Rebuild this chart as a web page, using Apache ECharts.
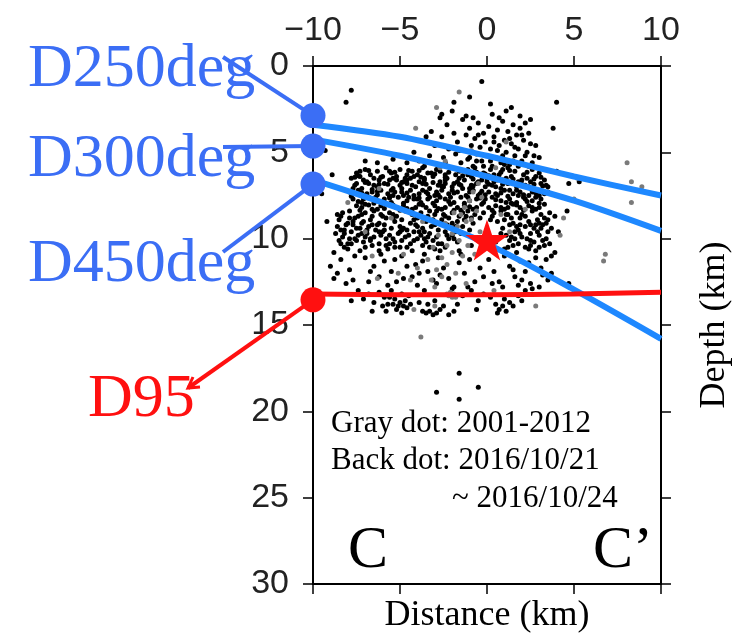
<!DOCTYPE html>
<html>
<head>
<meta charset="utf-8">
<title>C - C' depth section</title>
<script src="https://cdn.jsdelivr.net/npm/echarts@6/dist/echarts.min.js"></script>
<style>
  html, body { margin: 0; padding: 0; background: #fff; }
  #chart { width: 741px; height: 639px; }
</style>
</head>
<body>
<div id="chart"></div>
<script>
// distance samples (km) for the interface lines
const profileX = [-10, -5, 0, 5, 10];
// depth (km) of each interface at those distances
const d250 = [3.4, 4.1, 5.2, 6.4, 7.5];
const d300 = [4.25, 5.2, 6.4, 7.8, 9.55];
const d450 = [6.6, 8.27, 10.3, 12.95, 15.8];
const d95  = [13.2, 13.25, 13.25, 13.2, 13.1];

// names and depths of the end markers on the left frame
const markerNames = ['D250deg', 'D300deg', 'D450deg', 'D95'];
const markerDepth = [2.87, 4.64, 6.84, 13.54];

const mainshock = [0.0, 10.07];

// hypocentres, flat list of distance, depth
const blackFlat = [
  // band 6-8.3 km
  -7.5,6.2, -7.0,6.0, -6.7,6.3, -6.3,6.1, -5.8,5.9, -5.5,6.2, -5.0,6.0, -4.6,6.3, -4.3,6.1, -3.7,5.9, -3.4,6.2, -2.9,6.0, -2.4,6.3,
  -2.1,5.9, -1.6,6.1, -1.1,6.3, -0.7,5.9, -0.2,6.2, 0.2,6.0, 0.7,6.3, 1.2,5.9, 1.6,6.1, 2.1,6.3, 2.6,6.0, 3.0,6.2,
  -7.8,6.5, -7.3,6.4, -6.9,6.7, -6.5,6.5, -6.0,6.4, -5.6,6.6, -5.2,6.4, -4.8,6.7, -4.4,6.5, -4.0,6.3, -3.6,6.6, -3.1,6.4, -2.7,6.7,
  -2.3,6.5, -1.8,6.3, -1.3,6.6, -0.9,6.4, -0.5,6.7, 0.0,6.5, 0.4,6.3, 0.9,6.6, 1.4,6.4, 1.8,6.7, 2.3,6.5, 2.8,6.4, 3.3,6.6,
  -7.6,6.9, -7.2,7.1, -6.8,6.8, -6.3,7.0, -5.9,6.8, -5.4,7.1, -5.0,6.9, -4.6,6.8, -4.1,7.0, -3.7,6.8, -3.3,7.1, -2.8,6.9, -2.4,6.8,
  -2.0,7.0, -1.5,6.9, -1.0,7.1, -0.6,6.8, -0.1,7.0, 0.3,6.9, 0.8,7.1, 1.2,6.8, 1.7,7.0, 2.2,6.9, 2.6,7.1, 3.1,6.8, 3.5,7.0,
  -7.9,7.3, -7.4,7.2, -7.0,7.5, -6.6,7.3, -6.1,7.2, -5.7,7.4, -5.3,7.3, -4.8,7.5, -4.4,7.2, -3.9,7.4, -3.5,7.3, -3.0,7.5, -2.6,7.2,
  -2.2,7.4, -1.7,7.3, -1.2,7.5, -0.8,7.2, -0.4,7.4, 0.1,7.3, 0.6,7.5, 1.0,7.2, 1.5,7.4, 1.9,7.3, 2.4,7.5, 2.9,7.2, 3.3,7.4,
  -7.7,7.7, -7.2,7.9, -6.8,7.6, -6.4,7.8, -5.9,7.7, -5.5,7.9, -5.1,7.6, -4.6,7.8, -4.2,7.7, -3.8,7.9, -3.3,7.6, -2.9,7.8, -2.4,7.7,
  -1.9,7.9, -1.5,7.6, -1.0,7.8, -0.6,7.7, -0.2,7.9, 0.3,7.6, 0.8,7.8, 1.3,7.7, 1.7,7.9, 2.1,7.6, 2.6,7.8, 3.1,7.7,
  -7.5,8.1, -7.0,8.0, -6.6,8.3, -6.1,8.1, -5.7,8.0, -5.2,8.2, -4.8,8.1, -4.3,8.3, -3.9,8.0, -3.5,8.2, -3.0,8.1, -2.6,8.3, -2.1,8.0,
  -1.7,8.2, -1.3,8.1, -0.8,8.3, -0.3,8.0, 0.1,8.2, 0.5,8.1, 1.0,8.3, 1.5,8.0, 1.9,8.2, 2.4,8.1, 2.8,8.3, 3.3,8.0,
  -7.3,6.1, -6.5,6.9, -5.6,6.1, -4.9,7.1, -4.2,6.4, -3.4,7.7, -2.7,6.1, -1.9,6.8, -1.1,6.0, -0.3,6.6, 0.5,7.0, 1.1,6.5, 1.8,7.5,
  2.5,6.7, -6.9,7.4, -6.0,7.9, -5.2,6.6, -4.5,7.6, -3.6,6.5, -2.9,7.3, -2.1,7.6, -1.4,7.1, -0.5,7.5, 0.4,6.7, 1.3,7.2, 2.0,6.6,
  2.8,7.6, -7.1,6.6, -5.4,7.5, -3.9,6.7, -2.4,6.6, -0.9,6.9, 0.9,6.0, 2.4,7.0, -6.2,6.6, -4.7,6.5, -3.2,6.2, -1.6,6.5, 0.0,6.7,
  1.5,6.8, 3.0,7.5, -7.7,7.1, -6.4,7.6, -4.0,7.7, -2.5,7.0, -0.1,7.7, 1.1,7.9, 2.2,7.7,
  -7.4,6.35, -6.8,6.05, -6.1,6.45, -5.3,6.15, -4.5,6.05, -3.8,6.45, -3.0,6.25, -2.2,6.15, -1.4,6.35, -0.6,6.15, 0.1,6.35, 0.8,6.15,
  1.5,6.55, 2.3,6.15, 3.1,6.45, -7.5,6.8, -6.6,7.15, -5.7,6.85, -4.9,6.75, -4.3,6.9, -3.5,6.85, -2.6,6.95, -1.7,6.7, -0.8,6.95,
  0.1,6.85, 0.9,6.85, 1.9,6.9, 2.7,6.85, 3.4,6.9, -7.2,7.35, -6.3,7.45, -5.5,7.2, -4.6,7.35, -3.7,7.2, -2.8,7.45, -1.9,7.35,
  -1.0,7.3, -0.1,7.45, 0.8,7.35, 1.7,7.2, 2.6,7.3, 3.5,7.3, -7.4,7.85, -6.5,7.95, -5.6,7.65, -4.8,7.95, -3.9,7.65, -3.1,7.95,
  -2.2,7.85, -1.3,7.95, -0.4,7.65, 0.5,7.75, 1.4,7.95, 2.3,7.85, 3.0,7.95, -7.2,8.2, -6.3,8.3, -5.4,8.05, -4.6,8.25, -3.7,8.05,
  -2.8,8.25, -1.9,8.35, -1.0,8.15, 0.3,8.35, 1.2,8.2, 2.1,8.35, 3.0,8.2,
  -7.6,6.45, -7.0,6.75, -6.2,6.85, -5.4,6.5, -4.6,6.6, -3.9,6.05, -3.1,6.75, -2.4,6.45, -1.6,6.85, -0.8,6.55, -0.1,6.25, 0.6,6.6,
  1.3,6.05, 2.0,6.85, 2.7,6.55, 3.2,6.95, -7.8,7.55, -7.1,7.7, -6.3,7.25, -5.6,7.55, -4.9,7.3, -4.2,7.5, -3.4,7.4, -2.7,7.6,
  -2.0,7.2, -1.1,7.6, -0.3,7.25, 0.5,7.4, 1.2,7.55, 2.1,7.45, 2.8,7.35, -7.3,8.35, -6.8,8.05, -5.9,8.25, -5.0,8.35, -4.1,8.2,
  -3.3,8.4, -2.4,8.2, -1.5,8.35, -0.6,8.2, 0.8,8.2, 1.7,8.05, 2.6,8.2,
  // upper cloud
  -3.3,5.2, -3.0,4.6, -2.8,5.7, -2.6,4.1, -2.5,5.3, -2.3,3.4, -2.2,4.8, -2.1,5.9, -1.9,3.9, -1.8,5.1, -1.7,4.4, -1.5,5.6, -1.4,3.1,
  -1.3,4.9, -1.2,4.0, -1.1,5.4, -1.0,3.6, -0.9,4.6, -0.8,5.8, -0.7,4.2, -0.6,5.1, -0.5,3.3, -0.4,4.7, -0.3,5.5, -0.2,3.9, -0.1,4.4,
  0.0,5.2, 0.1,3.5, 0.2,4.8, 0.3,5.8, 0.4,4.1, 0.5,5.3, 0.6,3.7, 0.7,4.6, 0.8,5.6, 0.9,3.2, 1.0,4.3, 1.1,5.0, 1.2,3.8, 1.3,5.7,
  1.4,4.5, 1.5,3.4, 1.6,5.2, 1.7,4.0, 1.8,4.8, 1.9,3.6, 2.0,5.5, 2.1,4.3, 2.3,5.0, 2.4,3.9, 2.6,5.6, 2.8,4.6, 3.0,5.3, -3.6,5.8,
  -3.9,5.5, -2.0,2.6, -1.2,2.9, 0.3,2.8, 1.1,2.6, -0.8,3.0, 0.7,3.0, 1.9,2.9, 2.2,3.3, -2.7,3.0, -3.5,4.1, -4.2,5.0, -4.6,5.6,
  -5.4,5.4, -6.3,5.6, -7.0,5.5,
  -1.0,5.3, -0.5,4.0, 0.2,5.5, 0.6,4.9, 1.0,5.7, 1.3,4.2, 1.6,4.7, 2.0,4.0, 2.2,5.2, 2.5,4.5, 2.7,5.2, -0.2,5.8, 0.9,5.2, 1.8,5.8,
  2.4,5.8, -1.6,4.9, -2.4,5.6, -0.6,5.5, 0.4,4.4, 1.5,5.5,
  // 8.3-10.8 km
  -8.3,8.5, -7.9,8.4, -7.4,8.7, -7.0,8.5, -6.5,8.4, -6.1,8.6, -5.6,8.5, -5.2,8.7, -4.7,8.4, -4.3,8.6, -3.8,8.5, -3.4,8.7, -2.9,8.4,
  -2.5,8.6, -2.0,8.5, -1.6,8.7, -1.1,8.4, -0.7,8.6, -0.2,8.5, 0.3,8.7, 0.8,8.4, 1.2,8.6, 1.7,8.5, 2.2,8.7, 2.6,8.4, 3.1,8.6, 3.6,8.5,
  -8.5,8.9, -8.0,9.1, -7.6,8.8, -7.1,9.0, -6.7,8.9, -6.2,9.1, -5.8,8.8, -5.3,9.0, -4.9,8.9, -4.4,9.1, -4.0,8.8, -3.5,9.0, -3.1,8.9,
  -2.6,9.1, -2.2,8.8, -1.7,9.0, -1.3,8.9, -0.8,9.1, -0.4,8.8, 0.6,9.0, 1.0,8.9, 1.5,9.1, 1.9,8.8, 2.4,9.0, 2.9,8.9, 3.4,9.1,
  -8.6,9.3, -8.2,9.5, -7.7,9.2, -7.3,9.4, -6.8,9.3, -6.4,9.5, -5.9,9.2, -5.5,9.4, -5.0,9.3, -4.6,9.5, -4.1,9.2, -3.7,9.4, -3.2,9.3,
  -2.8,9.5, -2.3,9.2, -1.9,9.4, -1.4,9.3, -1.0,9.5, 0.9,9.4, 1.3,9.2, 1.8,9.5, 2.2,9.3, 2.7,9.4, 3.2,9.2, 3.7,9.4,
  -8.7,9.7, -8.3,9.9, -7.8,9.6, -7.4,9.8, -6.9,9.7, -6.5,9.9, -6.0,9.6, -5.6,9.8, -5.1,9.7, -4.7,9.9, -4.2,9.6, -3.8,9.8, -3.3,9.7,
  -2.9,9.9, -2.4,9.6, -2.0,9.8, -1.5,9.7, 1.1,9.8, 1.6,9.6, 2.0,9.9, 2.5,9.7, 3.0,9.8, 3.5,9.6,
  -8.5,10.1, -8.0,10.3, -7.6,10.0, -7.1,10.2, -6.7,10.1, -6.2,10.3, -5.8,10.0, -5.3,10.2, -4.9,10.1, -4.4,10.3, -4.0,10.0, -3.5,10.2,
  -3.1,10.1, -2.6,10.3, -2.2,10.0, -1.7,10.2, 1.3,10.1, 1.8,10.3, 2.3,10.0, 2.7,10.2, 3.2,10.1, 3.6,10.3,
  -8.2,10.5, -7.3,10.7, -6.6,10.4, -5.7,10.6, -5.0,10.5, -4.3,10.7, -3.7,10.4, -3.0,10.6, -2.4,10.5, -1.6,10.7, -0.9,10.4, 0.6,10.6,
  1.2,10.5, 1.7,10.8, 2.2,10.5, 2.8,10.7, 3.3,10.4,
  -7.9,8.8, -6.9,9.5, -6.0,8.7, -5.0,9.6, -4.0,9.3, -3.0,8.6, -2.0,9.1, -1.2,8.7, 0.2,8.9, 1.4,8.8, 2.5,9.2, 3.3,8.8, -7.5,10.1,
  -6.3,9.2, -5.4,8.6, -4.5,9.8, -3.4,9.9, -2.6,8.9, 0.8,9.7, 1.9,9.2, 2.9,9.6, -8.1,9.2, -5.6,10.3, -3.9,9.6, -1.8,9.6, 0.5,10.2,
  1.6,10.0, 2.4,10.6, 3.0,9.1,
  -8.4,8.7, -7.7,9.0, -7.2,8.6, -6.6,9.2, -5.9,9.5, -5.4,8.8, -4.8,9.4, -4.2,8.9, -3.6,9.6, -3.0,9.2, -2.4,8.7, -1.8,9.3, -1.4,8.5,
  -0.9,8.8, 0.4,8.5, 1.1,8.6, 1.7,9.3, 2.0,8.6, 2.8,9.2, 3.5,8.9, -8.4,9.5, -7.9,10.0, -7.2,9.7, -6.7,10.0, -6.1,9.8, -5.4,10.0,
  -4.9,9.5, -4.2,10.1, -3.6,10.0, -2.8,10.3, -2.3,9.8, -1.9,10.0, 1.4,9.9, 1.9,9.7, 2.5,10.1, 3.1,9.4, 3.4,10.0, -8.0,10.6,
  -7.0,10.5, -6.2,10.7, -5.3,10.5, -4.6,10.5, -3.3,10.5, -2.7,10.7, 1.0,10.6, 1.5,10.4, 2.5,10.4, 3.0,10.5,
  -8.6,8.6, -8.2,9.7, -7.8,10.3, -7.5,9.4, -7.0,9.9, -6.6,8.7, -6.2,9.6, -5.8,10.4, -8.4,10.3, -7.2,9.1,
  // 10.8-12.8 km
  -9.0,11.6, -8.8,12.3, -8.4,11.2, -8.1,12.6, -7.9,11.8, -7.6,11.0, -8.6,12.0, -7.7,12.4,
  -7.0,11.1, -6.5,11.6, -6.2,12.2, -6.8,12.5, -5.9,11.3, -5.5,11.9, -5.2,12.5, -4.9,11.0, -4.6,11.6, -4.3,12.2, -4.0,12.7, -3.7,11.3,
  -3.4,11.9, -3.1,12.4, -2.8,11.1, -2.5,11.7, -2.2,12.3, -1.9,12.8, -1.6,11.4, -1.3,12.0, -1.0,11.2, -0.7,12.5, -0.4,11.7, -5.7,12.7,
  -4.1,11.5, -2.9,12.6, -6.1,10.9, -3.6,10.9, -1.5,10.9, -4.8,12.3, -3.9,12.0, -2.7,12.1, -1.1,12.8, -0.2,12.2, -5.3,11.2, -6.7,11.9,
  0.1,11.2, 0.4,11.9, 0.7,12.5, 1.0,11.0, 1.3,11.6, 1.6,12.2, 1.9,11.3, 2.2,11.9, 2.5,12.6, 2.8,11.1, 3.1,11.7, 3.4,11.2, 3.7,11.0,
  0.9,12.8, 1.8,12.7, 2.4,11.4, 2.0,12.4, 3.2,12.1, 0.3,12.6, 1.5,11.8,
  // 12.8-14.5 km
  -7.4,13.0, -7.1,13.5, -6.8,13.2, -6.5,13.7, -6.2,13.1, -5.9,13.4, -5.7,13.8, -5.5,13.0, -5.3,13.5, -5.1,13.9, -4.9,13.2, -4.7,13.6,
  -4.6,14.0, -4.5,13.3, -5.2,14.1, -5.0,13.7, -4.8,13.9, -5.6,13.4, -5.4,13.8, -4.4,13.8, -6.0,13.9, -5.8,14.2, -4.9,14.3, -6.6,14.2,
  -7.8,13.6,
  -3.7,14.2, -3.5,14.3, -3.3,14.2, -3.1,14.4, -2.9,14.3, -2.7,14.1, -3.4,13.8, -2.5,13.9, -2.2,14.4, -1.9,14.2, -3.9,13.7, -3.0,13.6,
  -1.7,13.8, -2.0,12.9, -3.6,13.0, -1.4,13.3, -0.9,13.0, -0.5,13.6, -0.2,13.2,
  0.5,13.8, 0.7,14.1, 0.9,13.9, 1.1,14.2, 1.3,13.7, 1.5,13.9, 0.6,14.3, 1.0,13.5, 1.8,13.3, 2.2,13.0, 2.6,12.9, 0.2,13.4, -0.6,14.1,
  2.0,13.6, 3.0,12.8, 3.5,12.4,
  // scattered
  -7.8,1.4, -8.1,2.1, -0.3,0.9, -1.9,2.1, -9.3,4.9, 4.0,2.1, 3.8,3.6, 4.7,6.8, 5.3,6.7, 4.7,12.6, -1.6,17.8, -2.9,18.9, -0.5,18.6,
  -1.6,19.3, -3.2,3.8, -2.6,2.8, 2.5,3.1, -8.9,6.3, -9.5,7.4, 4.0,6.1, 3.9,8.7, 4.1,9.6, 3.9,10.8, -8.8,10.8, -9.2,9.0, 0.2,2.2,
  1.4,2.4, -1.0,1.8, 4.6,8.4, 3.7,12.0
];

const grayFlat = [
  -1.6,1.5, -2.9,2.4, -4.1,3.6, 8.05,5.6, 8.3,6.7, 8.9,7.0, 5.2,6.5, 5.0,7.7, 8.3,7.9, 9.3,9.3, 4.4,8.8, 4.2,9.8, 6.8,10.9,
  6.7,11.3, 2.8,13.9, -3.8,15.7, -2.4,5.5,
  -0.5,6.8, -0.8,7.3, -1.0,7.8, -1.3,8.2, -1.5,8.6, -1.2,9.0, -1.7,9.3, -2.0,9.7, -1.6,10.1, -2.3,10.4, -2.0,10.8, -2.6,11.1,
  -2.3,11.5, -2.9,11.8, -2.6,12.2, -3.2,12.4, -3.0,12.8, -0.3,7.6, -0.6,8.4, -0.9,8.9, -1.9,8.5, -2.4,9.1, -2.8,9.8, -3.1,10.5,
  -3.4,11.2, -1.4,11.0, -1.1,10.4, -0.4,9.6, -0.7,10.9, -1.8,12.0, -2.1,13.1, -2.2,13.3, -1.9,13.2, -2.0,13.4, -2.3,13.2, -1.8,13.4,
  -4.0,11.7, -4.4,12.4, -5.1,12.0, -6.3,12.3, -4.8,10.9, -3.7,9.0, -5.5,8.8, -6.2,7.1, -0.1,5.2, 0.5,5.9, 1.1,4.4, -0.9,4.9,
  -2.7,5.9, 0.8,8.6, 1.3,9.6, 2.2,8.3, -3.0,13.9, -4.2,14.1, 0.4,13.0, -1.2,12.6, -6.6,11.0, -7.0,9.6, -8.0,7.9
];

function pairs(flat) {
  const out = [];
  for (let i = 0; i < flat.length; i += 2) out.push([flat[i], flat[i + 1]]);
  return out;
}
function lineData(depths) {
  return profileX.map((x, i) => [x, depths[i]]);
}

const BLUE_LINE = '#1e88ff';
const BLUE_MARK = '#3b6ef5';
const RED = '#ff1010';
const SERIF = 'Liberation Serif, Times New Roman, serif';
const SANS = 'Liberation Sans, Arial, Helvetica, sans-serif';
const STAR = 'path://M0,-1L0.2245,-0.309L0.951,-0.309L0.363,0.118L0.588,0.809L0,0.382L-0.588,0.809L-0.363,0.118L-0.951,-0.309L-0.2245,-0.309Z';

const chart = echarts.init(document.getElementById('chart'));

const frameLine = { show: true, onZero: false, lineStyle: { color: '#000', width: 2 } };
const frameTick = { show: true, inside: false, length: 10, lineStyle: { color: '#000', width: 1.5 } };

const option = {
  animation: false,
  backgroundColor: '#fff',
  grid: { left: 313, top: 66, width: 348, height: 522 },
  xAxis: [
    {
      type: 'value', position: 'top', min: -10, max: 10, interval: 5,
      axisLine: frameLine, axisTick: frameTick, splitLine: { show: false },
      axisLabel: {
        fontSize: 34, color: '#222', fontFamily: SANS, margin: 18,
        formatter: v => (v < 0 ? '\u2212' + Math.abs(v) : String(v))
      }
    },
    {
      type: 'value', position: 'bottom', min: -10, max: 10, interval: 5,
      axisLine: frameLine, axisTick: frameTick, splitLine: { show: false },
      axisLabel: { show: false },
      name: 'Distance (km)', nameLocation: 'middle', nameGap: 14,
      nameTextStyle: { fontFamily: SERIF, fontSize: 36, color: '#000' }
    }
  ],
  yAxis: [
    {
      type: 'value', position: 'left', inverse: true, min: 0, max: 30, interval: 5,
      axisLine: frameLine, axisTick: frameTick, splitLine: { show: false },
      axisLabel: { fontSize: 34, color: '#222', fontFamily: SANS, margin: 24 }
    },
    {
      type: 'value', position: 'right', inverse: true, min: 0, max: 30, interval: 5,
      axisLine: frameLine, axisTick: frameTick, splitLine: { show: false },
      axisLabel: { show: false },
      name: 'Depth (km)', nameLocation: 'middle', nameGap: 36, nameRotate: 90,
      nameTextStyle: { fontFamily: SERIF, fontSize: 36, color: '#000' }
    }
  ],
  series: [
    {
      type: 'scatter', name: 'black', data: pairs(blackFlat), symbolSize: 5,
      itemStyle: { color: '#000', opacity: 1 }, z: 2
    },
    {
      type: 'scatter', name: 'gray', data: pairs(grayFlat), symbolSize: 5,
      itemStyle: { color: '#7a7a7a', opacity: 1 }, z: 3
    },
    ...[d250, d300, d450].map(d => ({
      type: 'line', data: lineData(d), smooth: 0.3, symbol: 'none', z: 4,
      lineStyle: { color: BLUE_LINE, width: 6 }
    })),
    {
      type: 'line', data: lineData(d95), smooth: 0.3, symbol: 'none', z: 4,
      lineStyle: { color: RED, width: 5 }
    },
    {
      type: 'scatter', data: [mainshock], symbol: STAR, symbolSize: [43, 41],
      itemStyle: { color: RED, opacity: 1 }, z: 5
    },
    {
      type: 'scatter', clip: false, symbolSize: 25, z: 6,
      data: markerDepth.map((d, i) => ({
        value: [-10, d],
        itemStyle: { color: markerNames[i] === 'D95' ? RED : BLUE_MARK, opacity: 1 }
      }))
    }
  ]
};
chart.setOption(option);

// leader lines and labels for the interface markers
const labelPos = [[28, 70], [28, 160], [28, 265], [88, 400]];
const leaderEnd = [[223, 57], [223, 147], [223, 252], [188, 388]];
const graphics = [];
markerDepth.forEach((d, i) => {
  const p = chart.convertToPixel({ xAxisIndex: 0, yAxisIndex: 0 }, [-10, d]);
  const col = markerNames[i] === 'D95' ? RED : BLUE_MARK;
  graphics.push({
    type: 'line', z: 1, silent: true,
    shape: { x1: leaderEnd[i][0], y1: leaderEnd[i][1], x2: p[0], y2: p[1] },
    style: { stroke: col, lineWidth: 4 }
  });
  graphics.push({
    type: 'text', z: 10, left: labelPos[i][0], top: labelPos[i][1] - 31,
    style: { text: markerNames[i], font: '62px ' + SERIF, fill: col }
  });
});
graphics.push({
  type: 'polyline', z: 1,
  shape: { points: [[200, 387], [188, 388], [193, 377]] },
  style: { stroke: RED, lineWidth: 3, fill: null }
});
const notes = [
  ['Gray dot: 2001-2012', 331, 424, 31],
  ['Back dot: 2016/10/21', 331, 461, 31],
  ['~ 2016/10/24', 452, 499, 31],
  ['C', 348, 551, 60],
  ['C\u2019', 593, 551, 60]
];
notes.forEach(n => graphics.push({
  type: 'text', z: 10, left: n[1], top: n[2] - n[3] / 2,
  style: { text: n[0], font: n[3] + 'px ' + SERIF, fill: '#000' }
}));
chart.setOption({ graphic: graphics });
</script>
</body>
</html>
